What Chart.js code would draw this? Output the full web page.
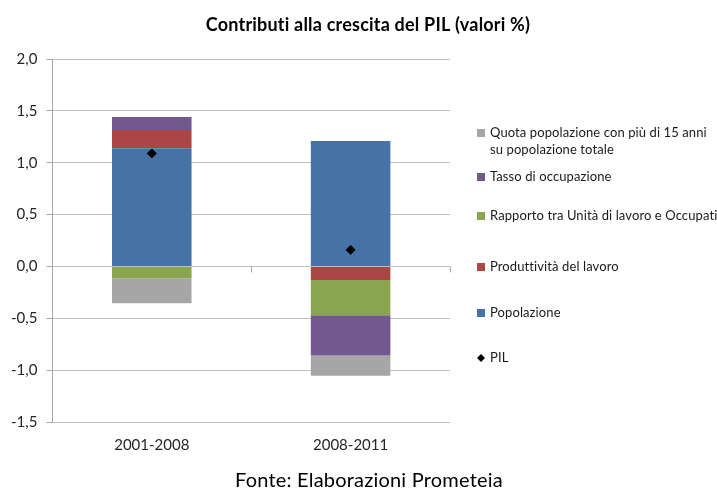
<!DOCTYPE html>
<html>
<head>
<meta charset="utf-8">
<script src="https://cdn.jsdelivr.net/npm/chart.js@4.4.0/dist/chart.umd.min.js"></script>
<style>
  html, body { margin: 0; padding: 0; background: #fff; }
  #wrap { width: 717px; height: 491px; }
</style>
</head>
<body>
<div id="wrap"><canvas id="pil-chart"></canvas></div>
<script>
"use strict";

const categories = ["2001-2008", "2008-2011"];
const popolazione = [1.14, 1.21];
const produttivita = [0.175, -0.13];
const rapporto = [-0.115, -0.34];
const tasso = [0.125, -0.39];
const quota = [-0.24, -0.195];
const pil = [1.09, 0.16];

const title = "Contributi alla crescita del PIL (valori %)";
const source = "Fonte: Elaborazioni Prometeia";

// legend row centres (px from top of canvas), Excel-like spacing
const legendRows = [133, 177, 216, 267, 313, 358];

const FONT = "Lato, 'Open Sans', sans-serif";

// title, source and the side legend are drawn by hand (Excel layout)
const decorPlugin = {
  id: "decor",
  afterDraw(chart) {
    const c = chart.ctx;
    const ds = chart.data.datasets;
    const order = [4, 3, 2, 1, 0, 5];
    c.save();
    c.textBaseline = "middle";
    c.textAlign = "center";
    c.fillStyle = "#000";
    c.letterSpacing = "0.2px";
    c.font = "bold 18px " + FONT;
    c.fillText(title, 368, 25);
    c.font = "20px " + FONT;
    c.fillText(source, 369, 481);

    c.textAlign = "left";
    c.letterSpacing = "0.1px";
    c.font = "13px " + FONT;
    order.forEach((idx, row) => {
      const d = ds[idx];
      const y = legendRows[row];
      const lines = Array.isArray(d.legendText) ? d.legendText : [d.label];
      if (d.type === "line") {
        c.fillStyle = "#000";
        c.beginPath();
        c.moveTo(481, y - 4);
        c.lineTo(485, y);
        c.lineTo(481, y + 4);
        c.lineTo(477, y);
        c.closePath();
        c.fill();
      } else {
        c.fillStyle = d.backgroundColor;
        c.fillRect(477, y - 4, 8, 8);
      }
      c.fillStyle = "#1a1a1a";
      lines.forEach((t, i) => c.fillText(t, 490, y + i * 17));
    });

    // small ticks on the zero line, at category boundaries
    const x = chart.scales.x;
    const y0 = chart.scales.y.getPixelForValue(0);
    c.strokeStyle = "#a6a6a6";
    c.lineWidth = 1;
    c.beginPath();
    for (let i = 0; i <= categories.length; i++) {
      const px = Math.round(x.getPixelForValue(i - 0.5)) + 0.5;
      c.moveTo(px, y0);
      c.lineTo(px, y0 + 6);
    }
    c.stroke();
    c.restore();
  },
};

const ctx = document.getElementById("pil-chart");

new Chart(ctx, {
  data: {
    labels: categories,
    datasets: [
      { type: "bar", label: "Popolazione", data: popolazione, backgroundColor: "#4572a7", stack: "a" },
      { type: "bar", label: "Produttività del lavoro", data: produttivita, backgroundColor: "#aa4643", stack: "a" },
      { type: "bar", label: "Rapporto tra Unità di lavoro e Occupati", data: rapporto, backgroundColor: "#89a54e", stack: "a" },
      { type: "bar", label: "Tasso di occupazione", data: tasso, backgroundColor: "#71588f", stack: "a" },
      {
        type: "bar",
        label: "Quota popolazione con più di 15 anni su popolazione totale",
        legendText: ["Quota popolazione con più di 15 anni", "su popolazione totale"],
        data: quota,
        backgroundColor: "#a6a6a6",
        stack: "a",
      },
      {
        type: "line",
        label: "PIL",
        data: pil,
        stack: "pil",
        order: -1,
        showLine: false,
        pointStyle: "rectRot",
        pointRadius: 4.5,
        pointBackgroundColor: "#000",
        pointBorderColor: "#000",
        borderColor: "#000",
        backgroundColor: "#000",
      },
    ],
  },
  options: {
    responsive: true,
    maintainAspectRatio: false,
    animation: false,
    layout: { padding: { left: 2, right: 267, top: 59, bottom: 31 } },
    datasets: {
      bar: { categoryPercentage: 1, barPercentage: 0.4 },
    },
    scales: {
      x: {
        stacked: true,
        grid: { display: false },
        border: { display: false },
        ticks: { color: "#262626", font: { family: FONT, size: 15 }, padding: 6 },
      },
      y: {
        stacked: true,
        min: -1.5,
        max: 2,
        ticks: {
          stepSize: 0.5,
          color: "#262626",
          font: { family: FONT, size: 15 },
          padding: 9,
          callback: (v) => v.toFixed(1).replace(".", ","),
        },
        grid: { color: "#c0c0c0", tickLength: 6, tickColor: "#a6a6a6" },
        border: { color: "#a6a6a6" },
      },
    },
    plugins: {
      legend: { display: false },
      tooltip: { enabled: false },
      title: { display: false },
    },
  },
  plugins: [decorPlugin],
});
</script>
</body>
</html>
